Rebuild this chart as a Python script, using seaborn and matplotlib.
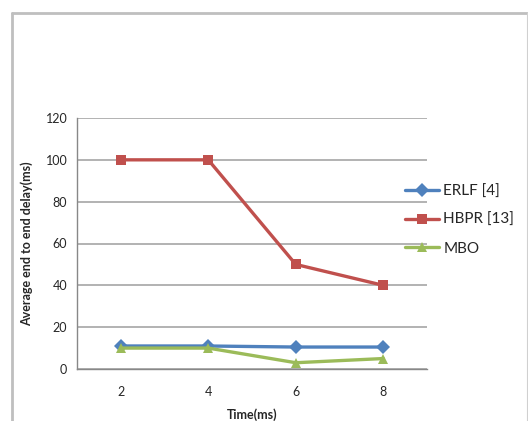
import matplotlib
matplotlib.use("Agg")
import matplotlib.pyplot as plt
import seaborn as sns
import pandas as pd
from matplotlib.patches import Rectangle
from matplotlib.lines import Line2D

time_labels = ["2", "4", "6", "8"]
erlf = [11, 11, 10.5, 10.5]
hbpr = [100, 100, 50, 40]
mbo = [10, 10, 3, 5]
series_names = ["ERLF [4]", "HBPR [13]", "MBO"]
y_ticks = [0, 20, 40, 60, 80, 100, 120]

sns.set_style("white")
plt.rcParams['font.family'] = ['Lato', 'DejaVu Sans']

rows = []
for name, vals in zip(series_names, [erlf, hbpr, mbo]):
    for t, v in zip(time_labels, vals):
        rows.append({"Time": t, "Delay": v, "Series": name})
df = pd.DataFrame(rows)

fig = plt.figure(figsize=(5.28, 4.21), dpi=100)
ax = fig.add_axes([77/528, 1-369/421, 350/528, 251/421])

palette = {"ERLF [4]": "#4F81BD", "HBPR [13]": "#C0504D", "MBO": "#9BBB59"}
markers = {"ERLF [4]": "D", "HBPR [13]": "s", "MBO": "^"}
sns.lineplot(data=df, x="Time", y="Delay", hue="Series", style="Series",
             palette=palette, markers=markers, dashes=False, linewidth=2.4,
             markersize=7, markeredgewidth=0, ax=ax, sort=False)

ax.set_xlim(-0.5, 3.5)
ax.set_ylim(0, 120)
ax.set_yticks(y_ticks)
ax.set_xticks(range(len(time_labels)))
ax.set_xticklabels(time_labels)
ax.set_xticks([-0.5, 0.5, 1.5, 2.5, 3.5], minor=True)
ax.tick_params(axis="x", which="major", length=0, pad=12, labelsize=9)
ax.tick_params(axis="x", which="minor", length=4, color="#888888", direction="out")
ax.tick_params(axis="y", length=4, color="#888888", direction="out", labelsize=9, pad=3)
ax.yaxis.grid(True, color="#A6A6A6", linewidth=1.2)
ax.set_axisbelow(True)
for s in ["top", "right"]:
    ax.spines[s].set_visible(False)
for s in ["left", "bottom"]:
    ax.spines[s].set_color("#888888")
    ax.spines[s].set_linewidth(1)

ax.set_ylabel("Average end to end delay(ms)", fontsize=9, fontweight="bold", labelpad=9)
ax.set_xlabel("Time(ms)", fontsize=9, fontweight="bold", labelpad=8)

handles, labels = ax.get_legend_handles_labels()
if ax.get_legend():
    ax.get_legend().remove()
leg = fig.legend(handles, labels, loc="center left",
                 bbox_to_anchor=(405/528, 1 - 220/421), bbox_transform=fig.transFigure,
                 frameon=False, fontsize=11, handlelength=2.2, handletextpad=0.3,
                 labelspacing=0.95, borderpad=0, borderaxespad=0)

# outer chart frame (left, top thicker; right thin)
fig.add_artist(Line2D([12/528, 12/528], [-0.05, 1 - 13/421], transform=fig.transFigure,
                      color="#BFBFBF", linewidth=2))
fig.add_artist(Line2D([12/528, 527/528], [1 - 13/421, 1 - 13/421], transform=fig.transFigure,
                      color="#BFBFBF", linewidth=2))
fig.add_artist(Line2D([526.5/528, 526.5/528], [-0.05, 1 - 13/421], transform=fig.transFigure,
                      color="#D0D0D0", linewidth=0.8))

fig.savefig("out.png", dpi=100)
